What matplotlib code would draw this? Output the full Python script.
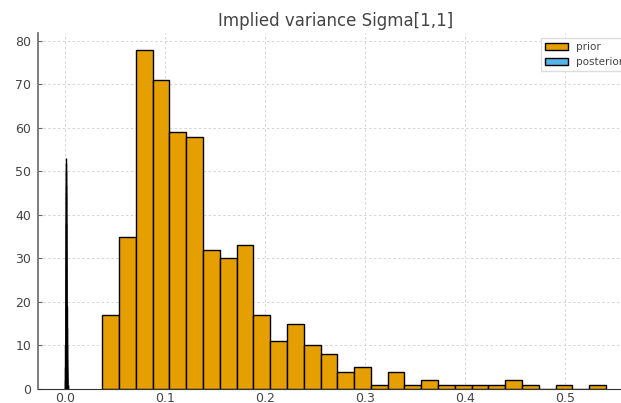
import numpy as np
import matplotlib
matplotlib.use("Agg")
import matplotlib.pyplot as plt

# Prior histogram (30 bins)
prior_edges_range = (0.0373, 0.5413)
prior_counts = [17, 35, 78, 71, 59, 58, 32, 30, 33, 17, 11, 15, 10, 8, 4,
                5, 1, 4, 1, 2, 1, 1, 1, 1, 2, 1, 0, 1, 0, 1]

# Posterior histogram (30 bins, concentrated near zero)
post_edges_range = (0.0003, 0.0030)
post_counts = [2, 5, 10, 18, 28, 38, 47, 52, 53, 50, 45, 38, 32, 25, 19,
               14, 10, 7, 5, 4, 3, 2, 1, 1, 1, 0, 1, 0, 0, 1]

title = "Implied variance Sigma[1,1]"
labels = ["prior", "posterior"]

prior_edges = np.linspace(*prior_edges_range, len(prior_counts) + 1)
post_edges = np.linspace(*post_edges_range, len(post_counts) + 1)

fig = plt.figure(figsize=(6.21, 4.03), dpi=100)
W, H = 621, 403
left, right, bottom, top = 38.2, 633, 14, 370.3
ax = fig.add_axes([left / W, bottom / H, (right - left) / W, (top - bottom) / H])

ax.hist(prior_edges[:-1], bins=prior_edges, weights=prior_counts,
        color="#E69F00", edgecolor="black", linewidth=1.0, label=labels[0])
ax.hist(post_edges[:-1], bins=post_edges, weights=post_counts,
        color="#56B4E9", edgecolor="black", linewidth=1.0, label=labels[1])

ax.set_title(title, fontsize=12, color="#444444", pad=5)
ax.grid(True, linestyle=(0, (2.5, 2.5)), color="#d5d5d5", linewidth=0.7)
ax.set_axisbelow(True)
for s in ["top", "right"]:
    ax.spines[s].set_visible(False)
ax.spines["left"].set_color("#666666")
ax.spines["left"].set_linewidth(1.2)
ax.spines["bottom"].set_color("#333333")
ax.tick_params(direction="in", length=3, labelsize=9, labelcolor="#444444",
               color="#666666")
ax.tick_params(axis="y", pad=5)
ax.tick_params(axis="x", pad=2.5)
ax.set_yticks(np.arange(0, 81, 10))
ax.set_xticks([0.0, 0.1, 0.2, 0.3, 0.4, 0.5])
leg = ax.legend(loc="upper right", fontsize=7.5, fancybox=False, framealpha=1.0,
                edgecolor="#dddddd", handlelength=2.2)
for t in leg.get_texts():
    t.set_color("#444444")

fig.savefig("out.png", dpi=100)
